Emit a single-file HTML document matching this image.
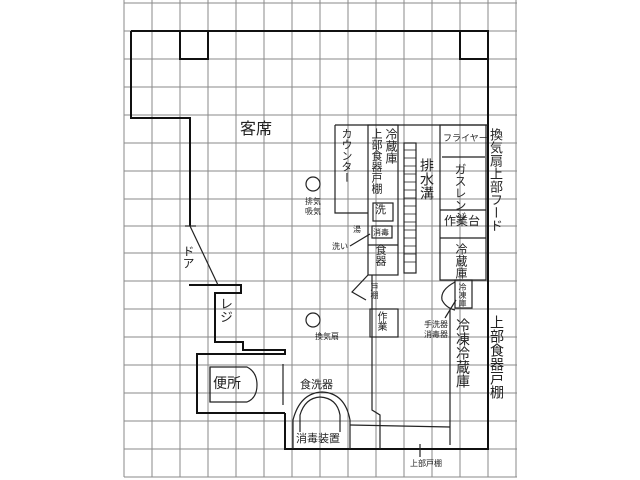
<!DOCTYPE html>
<html><head><meta charset="utf-8"><style>
body{margin:0;background:#fff;}
#w{position:relative;width:640px;height:480px;overflow:hidden;background:#fff;font-family:"Liberation Sans","Noto Sans CJK JP",sans-serif;color:#222;}
.t{position:absolute;font-size:13px;line-height:1;white-space:nowrap;}
.v{writing-mode:vertical-rl;}
.s{font-size:8px;}
</style></head><body><div id="w">
<svg width="640" height="480" style="position:absolute;left:0;top:0">
<g stroke="#8a8a8a" stroke-width="1">
<line x1="124" y1="0" x2="124" y2="477"/><line x1="152" y1="0" x2="152" y2="477"/><line x1="180" y1="0" x2="180" y2="477"/><line x1="208" y1="0" x2="208" y2="477"/><line x1="236" y1="0" x2="236" y2="477"/><line x1="264" y1="0" x2="264" y2="477"/><line x1="292" y1="0" x2="292" y2="477"/><line x1="320" y1="0" x2="320" y2="477"/><line x1="348" y1="0" x2="348" y2="477"/><line x1="376" y1="0" x2="376" y2="477"/><line x1="404" y1="0" x2="404" y2="477"/><line x1="432" y1="0" x2="432" y2="477"/><line x1="460" y1="0" x2="460" y2="477"/><line x1="488" y1="0" x2="488" y2="477"/><line x1="516" y1="0" x2="516" y2="477"/>
<line x1="124" y1="3" x2="517" y2="3"/><line x1="124" y1="31" x2="517" y2="31"/><line x1="124" y1="59" x2="517" y2="59"/><line x1="124" y1="87" x2="517" y2="87"/><line x1="124" y1="115" x2="517" y2="115"/><line x1="124" y1="143" x2="517" y2="143"/><line x1="124" y1="171" x2="517" y2="171"/><line x1="124" y1="199" x2="517" y2="199"/><line x1="124" y1="226" x2="517" y2="226"/><line x1="124" y1="253" x2="517" y2="253"/><line x1="124" y1="281" x2="517" y2="281"/><line x1="124" y1="309" x2="517" y2="309"/><line x1="124" y1="337" x2="517" y2="337"/><line x1="124" y1="365" x2="517" y2="365"/><line x1="124" y1="393" x2="517" y2="393"/><line x1="124" y1="421" x2="517" y2="421"/><line x1="124" y1="449" x2="517" y2="449"/><line x1="124" y1="477" x2="517" y2="477"/>
</g>
<g fill="none" stroke="#111" stroke-width="2">
<polyline points="131,31 488,31 488,449 285,449 285,413"/>
<polyline points="131,31 131,118 190,118 190,226"/>
<polyline points="180,31 180,59 208,59 208,31"/>
<polyline points="460,31 460,59 488,59"/>
<polyline points="189,285 241,285 241,293 215,293 215,342 243,342 243,350 285,350 285,355"/>
<polyline points="285,354 197,354 197,413 285,413"/>
</g>
<g fill="none" stroke="#222" stroke-width="1.2">
<line x1="190" y1="226" x2="218" y2="285"/>
<line x1="185" y1="226" x2="196" y2="226"/>
<path d="M210,367 H247 Q257,372 257,385 Q257,398 247,402 H210 Z"/>
<line x1="210" y1="367" x2="210" y2="402"/>
<line x1="283" y1="364" x2="283" y2="405"/>
<path d="M293,449 V420 Q300,393 322,392 Q345,393 350,420 V449"/>
<path d="M300,432 V415 Q305,398 320,397 Q337,398 340,415 V432"/>
<line x1="350" y1="425" x2="450" y2="427"/>
<path d="M335,125 H488 M335,125 Q335,125 335,213 H368"/>
<rect x="368" y="125" width="30" height="150"/>
<rect x="373" y="203" width="20" height="18"/>
<rect x="372" y="226" width="20" height="12"/>
<line x1="368" y1="245" x2="398" y2="245"/>
<rect x="404" y="143" width="12" height="130"/>
<g stroke-width="0.8"><line x1="404" y1="150" x2="416" y2="150"/><line x1="404" y1="158" x2="416" y2="158"/><line x1="404" y1="166" x2="416" y2="166"/><line x1="404" y1="174" x2="416" y2="174"/><line x1="404" y1="182" x2="416" y2="182"/><line x1="404" y1="190" x2="416" y2="190"/><line x1="404" y1="198" x2="416" y2="198"/><line x1="404" y1="206" x2="416" y2="206"/><line x1="404" y1="214" x2="416" y2="214"/><line x1="404" y1="222" x2="416" y2="222"/><line x1="404" y1="230" x2="416" y2="230"/><line x1="404" y1="238" x2="416" y2="238"/><line x1="404" y1="246" x2="416" y2="246"/><line x1="404" y1="254" x2="416" y2="254"/><line x1="404" y1="262" x2="416" y2="262"/></g>
<rect x="440" y="125" width="46" height="155"/>
<line x1="442" y1="157" x2="485" y2="157"/>
<line x1="440" y1="210" x2="486" y2="210"/>
<line x1="440" y1="238" x2="486" y2="238"/>
<rect x="455" y="280" width="17" height="28"/>
<path d="M455,282 Q440,290 442,300 Q446,308 455,310"/>
<line x1="450" y1="310" x2="450" y2="445"/>
<polyline points="372,275 372,410 380,415 380,449"/>
<rect x="370" y="309" width="28" height="28"/>
<path d="M368,275 L352,292 L366,300"/>
<circle cx="313" cy="184" r="7"/>
<circle cx="313" cy="320" r="7"/>
<line x1="350" y1="246" x2="370" y2="234"/>
<line x1="445" y1="318" x2="456" y2="300"/>
<line x1="420" y1="457" x2="420" y2="444"/>
</g>
</svg>
<div class="t" style="left:240px;top:122px;font-size:16px">客席</div>
<div class="t v" style="left:340px;top:128px;font-size:11px">カウンター</div>
<div class="t v" style="left:385px;top:128px;font-size:12px">冷蔵庫</div>
<div class="t v" style="left:370px;top:128px;font-size:11px">上部食器戸棚</div>
<div class="t" style="left:375px;top:205px;font-size:11px">洗</div>
<div class="t s" style="left:373px;top:229px">消毒</div>
<div class="t s" style="left:353px;top:226px">湯</div>
<div class="t s" style="left:332px;top:243px">洗い</div>
<div class="t v" style="left:374px;top:244px;font-size:11px">食器</div>
<div class="t v s" style="left:370px;top:283px">戸棚</div>
<div class="t v" style="left:420px;top:158px;font-size:14px">排水溝</div>
<div class="t" style="left:443px;top:134px;font-size:9px">フライヤー</div>
<div class="t v" style="left:454px;top:163px;font-size:12px">ガスレンジ</div>
<div class="t" style="left:444px;top:215px;font-size:12px">作業台</div>
<div class="t v" style="left:455px;top:243px;font-size:12px">冷蔵庫</div>
<div class="t v s" style="left:458px;top:283px">冷凍庫</div>
<div class="t v" style="left:489px;top:128px;font-size:13px">換気扇上部フード</div>
<div class="t v" style="left:490px;top:315px;font-size:14px">上部食器戸棚</div>
<div class="t v" style="left:456px;top:318px;font-size:14px">冷凍冷蔵庫</div>
<div class="t s" style="left:424px;top:320px;line-height:1.3">手洗器<br>消毒器</div>
<div class="t v" style="left:375px;top:311px;font-size:10px">作業</div>
<div class="t s" style="left:305px;top:197px;line-height:1.2">排気<br>吸気</div>
<div class="t s" style="left:315px;top:333px">換気扇</div>
<div class="t v" style="left:182px;top:245px;font-size:12px">ドア</div>
<div class="t v" style="left:219px;top:297px;font-size:13px">レジ</div>
<div class="t" style="left:213px;top:376px;font-size:14px">便所</div>
<div class="t" style="left:300px;top:380px;font-size:11px">食洗器</div>
<div class="t" style="left:296px;top:434px;font-size:11px">消毒装置</div>
<div class="t s" style="left:410px;top:460px">上部戸棚</div>
</div></body></html>
